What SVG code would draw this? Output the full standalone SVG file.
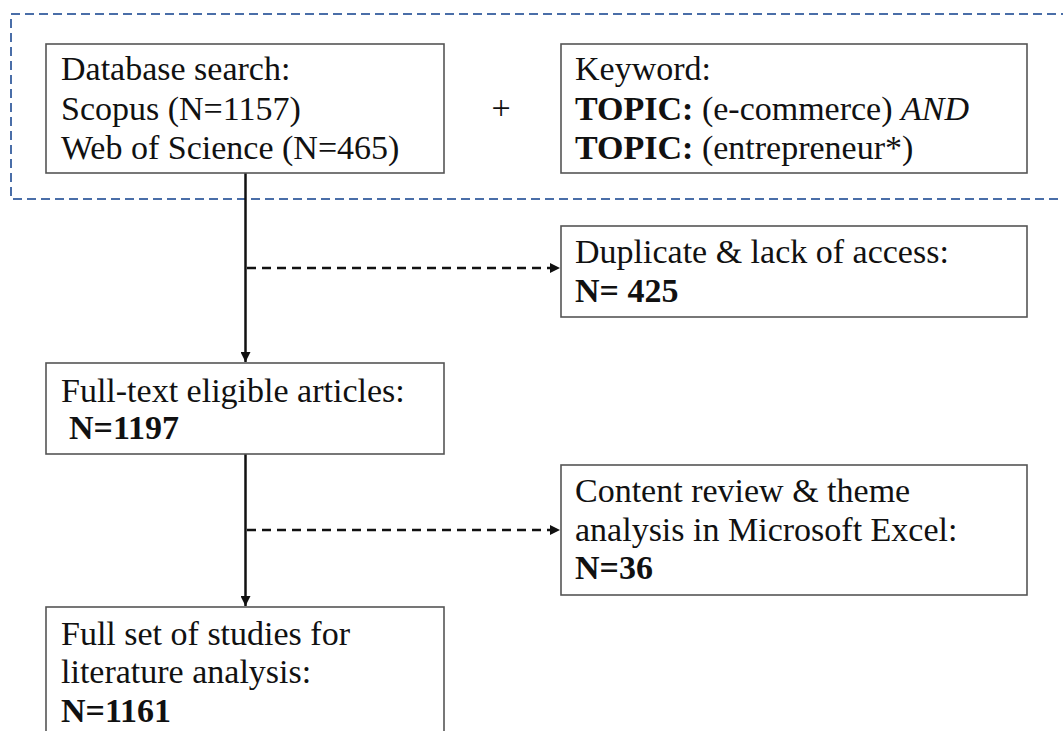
<svg xmlns="http://www.w3.org/2000/svg" width="1063" height="731" viewBox="0 0 1063 731">
<defs>
<style>
.box{fill:#fff;stroke:#555;stroke-width:1.6}
.t{font-family:"Liberation Serif","Times New Roman",serif;font-size:34px;fill:#111}
.b{font-weight:bold}
.i{font-style:italic}
.solid{stroke:#111;stroke-width:2.5;fill:none}
.dash{stroke:#111;stroke-width:2.5;fill:none;stroke-dasharray:9 6}
.group{fill:none;stroke:#4a6ea8;stroke-width:2;stroke-dasharray:9 5}
</style>
<marker id="ah" viewBox="0 0 10 10" refX="10" refY="5" markerWidth="4" markerHeight="4" orient="auto" markerUnits="strokeWidth">
<path d="M0,0 L10,5 L0,10 z" fill="#111"/>
</marker>
</defs>
<rect width="1063" height="731" fill="#fff"/>
<g id="search-group">
<path class="group" d="M1070,14 H11 V199 H1070"/>
</g>
<g id="connectors">
<line class="solid" x1="245.5" y1="173" x2="245.5" y2="362" marker-end="url(#ah)"/>
<line class="dash" x1="247" y1="268" x2="560" y2="268" marker-end="url(#ah)"/>
<line class="solid" x1="245.5" y1="454" x2="245.5" y2="606" marker-end="url(#ah)"/>
<line class="dash" x1="247" y1="530" x2="560" y2="530" marker-end="url(#ah)"/>
</g>
<g id="database">
<rect class="box" x="46" y="44" width="398" height="129"/>
<text class="t" x="61" y="80">Database search:</text>
<text class="t" x="61" y="120">Scopus (N=1157)</text>
<text class="t" x="61" y="159">Web of Science (N=465)</text>
</g>
<g id="plus">
<text class="t" x="501" y="119" text-anchor="middle">+</text>
</g>
<g id="keyword">
<rect class="box" x="561" y="44" width="466" height="129"/>
<text class="t" x="575" y="80">Keyword:</text>
<text class="t" x="575" y="120"><tspan class="b">TOPIC:</tspan> (e-commerce) <tspan class="i">AND</tspan></text>
<text class="t" x="575" y="159"><tspan class="b">TOPIC:</tspan> (entrepreneur*)</text>
</g>
<g id="duplicate">
<rect class="box" x="561" y="226" width="466" height="91"/>
<text class="t" x="575" y="263">Duplicate &amp; lack of access:</text>
<text class="t b" x="575" y="302">N= 425</text>
</g>
<g id="fulltext">
<rect class="box" x="46" y="363" width="398" height="91"/>
<text class="t" x="61" y="402">Full-text eligible articles:</text>
<text class="t b" x="69" y="439">N=1197</text>
</g>
<g id="content">
<rect class="box" x="561" y="465" width="466" height="130"/>
<text class="t" x="575" y="502">Content review &amp; theme</text>
<text class="t" x="575" y="541">analysis in Microsoft Excel:</text>
<text class="t b" x="575" y="579">N=36</text>
</g>
<g id="fullset">
<rect class="box" x="46" y="607" width="398" height="140"/>
<text class="t" x="61" y="645">Full set of studies for</text>
<text class="t" x="61" y="683">literature analysis:</text>
<text class="t b" x="61" y="722">N=1161</text>
</g>
</svg>
